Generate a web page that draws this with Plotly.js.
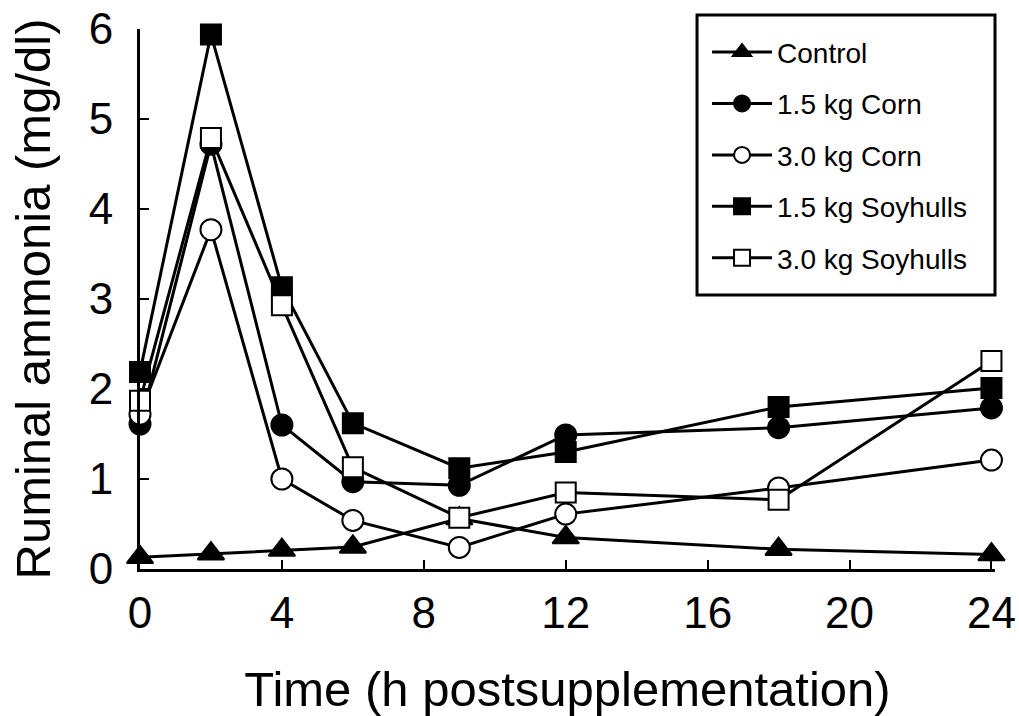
<!DOCTYPE html>
<html>
<head>
<meta charset="utf-8">
<script src="https://cdn.plot.ly/plotly-3.0.1.min.js"></script>
<style>html,body{margin:0;padding:0;background:#fff;}#chart{width:1019px;height:716px;}</style>
</head>
<body>
<div id="chart"></div>
<script>
var hours = [0, 2, 4, 6, 9, 12, 18, 24];
var seriesNames = ["Control", "1.5 kg Corn", "3.0 kg Corn", "1.5 kg Soyhulls", "3.0 kg Soyhulls"];
var control = [0.13, 0.17, 0.21, 0.245, 0.56, 0.35, 0.22, 0.16];
var corn15 = [1.61, 4.72, 1.60, 0.97, 0.93, 1.49, 1.57, 1.79];
var corn30 = [1.72, 3.77, 1.00, 0.54, 0.24, 0.61, 0.90, 1.21];
var soy15 = [2.19, 5.94, 3.13, 1.62, 1.12, 1.30, 1.80, 2.01];
var soy30 = [1.87, 4.79, 2.93, 1.13, 0.57, 0.85, 0.77, 2.31];
var xTicks = [0, 4, 8, 12, 16, 20, 24];
var yTicks = [0, 1, 2, 3, 4, 5, 6];

var values = [control, corn15, corn30, soy15, soy30];
var symbols = ["triangle-up", "circle", "circle", "square", "square"];
var fills = ["#000", "#000", "#fff", "#000", "#fff"];
var sizes = [23, 21, 21, 20, 20];

var traces = values.map(function (v, i) {
  return {
    x: hours, y: v, name: seriesNames[i], type: "scatter", mode: "lines+markers",
    legendgroup: "g" + i, cliponaxis: false,
    line: {color: "#000", width: 3},
    marker: {symbol: symbols[i], size: sizes[i], color: fills[i], line: {color: "#000", width: 2}}
  };
});

var font = "Liberation Sans, Arial, Helvetica, sans-serif";
var layout = {
  width: 1019, height: 716,
  margin: {l: 140, r: 24, t: 29, b: 147, pad: 0},
  paper_bgcolor: "#fff", plot_bgcolor: "#fff",
  font: {family: font, color: "#000"},
  showlegend: true,
  xaxis: {
    range: [0, 24.1], tickvals: xTicks, ticktext: xTicks.map(String),
    ticks: "inside", ticklen: 9, tickwidth: 2, tickcolor: "#000",
    showline: true, linewidth: 3, linecolor: "#000", mirror: false,
    showgrid: false, zeroline: false,
    tickfont: {size: 44, family: font, color: "#000"},
    ticklabelstandoff: 3,
    title: {text: "Time (h postsupplementation)", font: {size: 49, family: font, color: "#000"}, standoff: 37},
    automargin: false
  },
  yaxis: {
    range: [0, 6], tickvals: yTicks, ticktext: yTicks.map(String),
    ticks: "inside", ticklen: 9, tickwidth: 2, tickcolor: "#000",
    showline: true, linewidth: 3, linecolor: "#000",
    showgrid: false, zeroline: false,
    tickfont: {size: 44, family: font, color: "#000"},
    ticklabelstandoff: 15,
    title: {text: "Ruminal ammonia (mg/dl)", font: {size: 49, family: font, color: "#000"}, standoff: 23},
    automargin: false
  },
  legend: {
    x: 0.6632, xanchor: "left", y: 1.003, yanchor: "top",
    borderwidth: 0, bgcolor: "rgba(0,0,0,0)",
    font: {size: 28, family: font, color: "#000"},
    traceorder: "grouped", tracegroupgap: 12, itemwidth: 60
  },
  shapes: [{
    type: "rect", xref: "paper", yref: "paper",
    x0: 0.6515, x1: 1.0, y0: 0.5074, y1: 1.0259,
    line: {color: "#000", width: 3}, fillcolor: "rgba(0,0,0,0)", layer: "above"
  }]
};

Plotly.newPlot("chart", traces, layout, {staticPlot: true, displayModeBar: false});
</script>
</body>
</html>
